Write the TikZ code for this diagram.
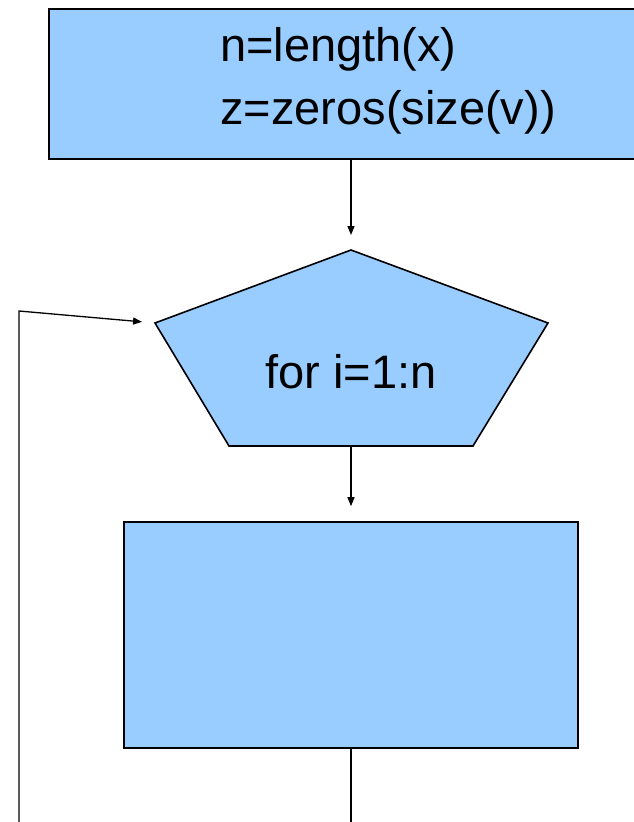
\documentclass[tikz,border=0pt]{standalone}
\usepackage{fontspec}
\setmainfont{Liberation Sans}
\usetikzlibrary{arrows.meta}
\definecolor{boxblue}{RGB}{153,204,255}
\begin{document}
\begin{tikzpicture}[x=1pt,y=-1pt,
  shapeline/.style={draw=black, line width=1.6pt, fill=boxblue},
  flow/.style={draw=black, line width=1.3pt, -{Triangle[length=9pt,width=7pt]}},
  label/.style={font=\fontsize{47}{56}\selectfont, inner sep=0pt}]
% page frame
\clip (0,0) rectangle (634,822);

% initialisation block
\node[shapeline, rectangle, minimum width=590pt, minimum height=150pt,
      anchor=north west, inner sep=0pt] (init) at (48,8) {};
\node[label, anchor=base west] (line1) at (220,61) {n=length(x)};
\node[label, anchor=base west] (line2) at (220,124) {z=zeros(size(v))};

% loop header (pentagon)
\coordinate (ptop) at (351,250);
\coordinate (pleft) at (155,323);
\coordinate (pright) at (548,323);
\coordinate (pbr) at (473,446);
\coordinate (pbl) at (229,446);
\coordinate (pbot) at (351,446);
\path[shapeline] (ptop) -- (pright) -- (pbr) -- (pbl) -- (pleft) -- cycle;
\node[label, anchor=base] (loop) at (351,388) {for i=1:n};

% loop body
\node[shapeline, rectangle, minimum width=454pt, minimum height=226pt,
      inner sep=0pt] (body) at (351,635) {};

% connectors
\draw[flow, shorten >=15pt] (ptop |- init.south) -- (ptop);
\draw[flow, shorten >=15pt] (pbot) -- (body.north);
\coordinate (bodyout) at (351,830);
\draw[line width=1.3pt] (body.south) -- (bodyout);
\coordinate (loopin) at (19,830);
\coordinate (ret) at (19,311);
\draw[flow, shorten >=13pt] (loopin) -- (ret) -- (pleft);
\end{tikzpicture}
\end{document}
